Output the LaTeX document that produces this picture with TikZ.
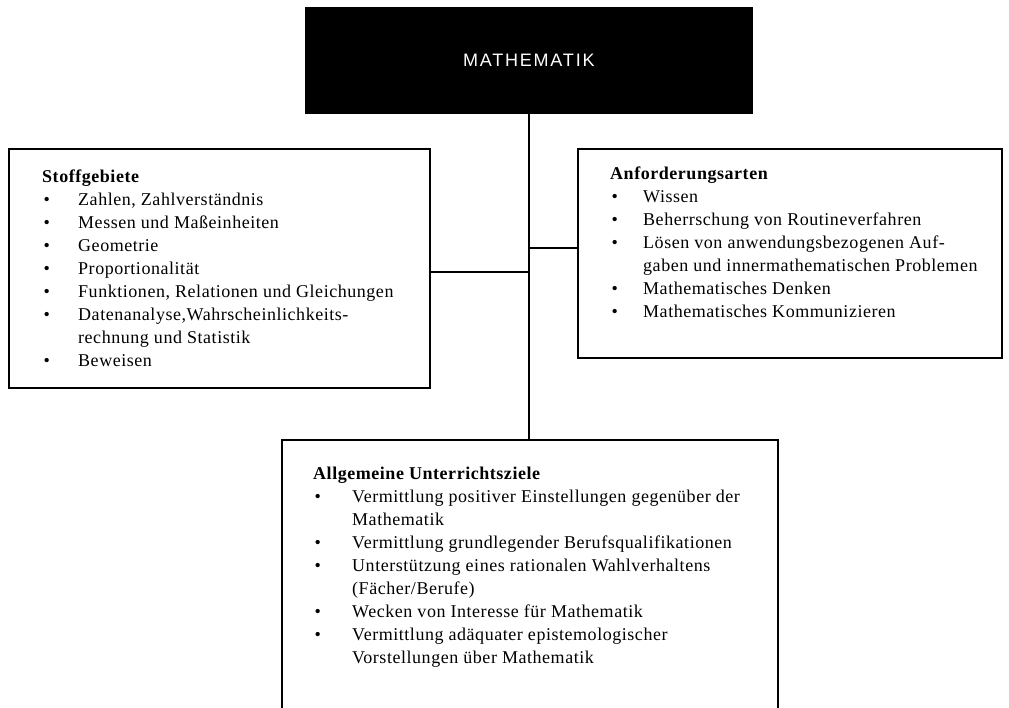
\documentclass[tikz,border=0pt]{standalone}
\usepackage{fontspec}
\setmainfont{Liberation Serif}[LetterSpace=3]
\newfontfamily\headfont{Liberation Sans}[LetterSpace=10]
\newcommand\bl[1]{\makebox[#1pt][l]{\hspace{1.5pt}\textbullet}}
\newcommand\cn[1]{\hspace*{#1pt}}
\begin{document}
\begin{tikzpicture}[x=1pt,y=-1pt,
  frame/.style={draw, line width=1.6pt, inner sep=0pt, anchor=north west},
  txt/.style={align=left, inner sep=0pt, anchor=north west, font=\fontsize{18}{23}\selectfont},
  link/.style={line width=1.6pt}]
\useasboundingbox (0,0) rectangle (1009,708);
% boxes
\node[frame, fill=black, minimum width=446pt, minimum height=105pt] (top) at (305,7) {};
\node[text=white, font=\headfont\fontsize{18}{20}\selectfont] (toplabel) at (top.center) {MATHEMATIK};
\node[frame, minimum width=421pt, minimum height=239pt] (lb) at (8,148) {};
\node[frame, minimum width=424pt, minimum height=209pt] (rb) at (577,148) {};
\node[frame, minimum width=496pt, minimum height=275pt] (bb) at (281,439) {};
% texts
\node[txt] (lt) at (42,170) {\textbf{Stoffgebiete}\\
\bl{36}Zahlen, Zahlverständnis\\
\bl{36}Messen und Maßeinheiten\\
\bl{36}Geometrie\\
\bl{36}Proportionalität\\
\bl{36}Funktionen, Relationen und Gleichungen\\
\bl{36}Datenanalyse,Wahrscheinlichkeits-\\
\cn{36}rechnung und Statistik\\
\bl{36}Beweisen};
\node[txt] (rt) at (610,167) {\textbf{Anforderungsarten}\\
\bl{33}Wissen\\
\bl{33}Beherrschung von Routineverfahren\\
\bl{33}Lösen von anwendungsbezogenen Auf-\\
\cn{33}gaben und innermathematischen Problemen\\
\bl{33}Mathematisches Denken\\
\bl{33}Mathematisches Kommunizieren};
\node[txt] (bt) at (313,467) {\textbf{Allgemeine Unterrichtsziele}\\
\bl{39}Vermittlung positiver Einstellungen gegenüber der\\
\cn{39}Mathematik\\
\bl{39}Vermittlung grundlegender Berufsqualifikationen\\
\bl{39}Unterstützung eines rationalen Wahlverhaltens\\
\cn{39}(Fächer/Berufe)\\
\bl{39}Wecken von Interesse für Mathematik\\
\bl{39}Vermittlung adäquater epistemologischer\\
\cn{39}Vorstellungen über Mathematik};
% connectors
\coordinate (jl) at (528,272);
\coordinate (jr) at (528,248);
\draw[link] (top.south) -- (top.south |- bb.north);
\draw[link] (lb.east |- jl) -- (jl);
\draw[link] (jr) -- (rb.west |- jr);
\end{tikzpicture}
\end{document}
